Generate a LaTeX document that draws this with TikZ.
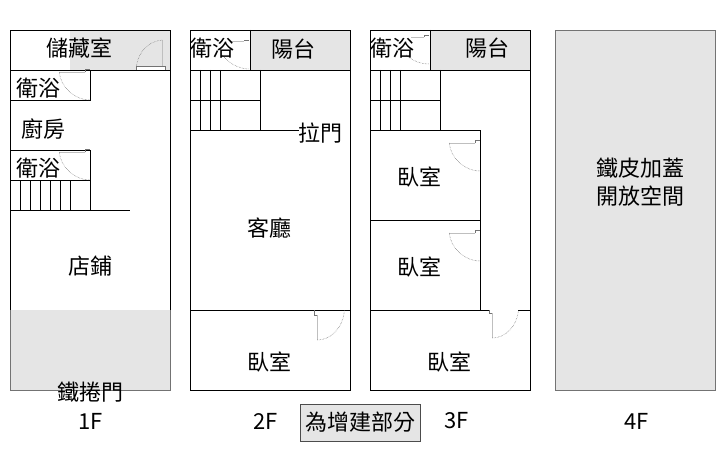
\documentclass[tikz,border=0pt]{standalone}
\usepackage{fontspec}
\setmainfont{Noto Sans CJK TC}
\tikzset{
  wall/.style={draw=black, line width=0.85pt},
  shade/.style={fill=black!10},
  doorleaf/.style={draw=black!25, line width=0.75pt},
  doorarc/.style={draw=black!60, densely dotted, line width=0.5pt},
  doortick/.style={draw=black!55, line width=0.5pt},
  room/.style={font=\fontsize{22}{28}\selectfont, inner sep=0pt}
}
\begin{document}
\begin{tikzpicture}[x=1pt, y=-1pt]
\useasboundingbox (0,0) rectangle (726,452);
\begin{scope}[xshift=-0.6pt]

% Shaded parts
\fill[shade] (71,30) rectangle (171,70);
\fill[shade] (11,310) rectangle (171,390);
\fill[shade] (251,30) rectangle (351,70);
\fill[shade] (431,30) rectangle (531,70);
\draw[shade, draw=black!55, line width=0.75pt] (556,30) rectangle (716,390);

% 1F walls
\draw[wall] (11,310) -- (11,30) -- (171,30) -- (171,310);
\draw[draw=black!55, line width=0.75pt] (11,310) -- (11,390) -- (171,390) -- (171,310);
\draw[wall] (11,70) -- (171,70);
\draw[wall] (11,100) -- (91,100) -- (91,70);
\draw[wall] (11,150) -- (91,150) -- (91,210);
\draw[wall] (11,180) -- (91,180);
\draw[wall] (11,210) -- (131,210);
\foreach \x in {21,31,41,51,61,71} {
  \draw[wall] (\x,180) -- (\x,210);
}

% 2F walls
\draw[wall] (191,30) rectangle (351,390);
\draw[wall] (191,70) -- (351,70);
\draw[wall] (251,30) -- (251,70);
\draw[wall] (261,70) -- (261,130);
\draw[wall] (191,100) -- (261,100);
\draw[wall] (191,130) -- (300,130);
\draw[wall] (191,310) -- (351,310);
\foreach \x in {201,211,221} {
  \draw[wall] (\x,70) -- (\x,130);
}

% 3F walls
\draw[wall] (371,30) rectangle (531,390);
\draw[wall] (371,70) -- (531,70);
\draw[wall] (431,30) -- (431,70);
\draw[wall] (441,70) -- (441,130);
\draw[wall] (371,100) -- (441,100);
\draw[wall] (371,130) -- (481,130) -- (481,310);
\draw[wall] (371,220) -- (481,220);
\draw[wall] (371,310) -- (490,310);
\draw[wall] (519,310) -- (531,310);
\foreach \x in {381,391,401} {
  \draw[wall] (\x,70) -- (\x,130);
}

% Doors
\fill[white] (137,66) rectangle (166,70);
\draw[doorleaf] (163,40) -- (163,66);
\draw[doortick] (137,70) -- (137,66) -- (166,66) -- (166,70);
\draw[doorarc] (137,66) .. controls (139,52) and (149,41) .. (163,40);

\foreach \x/\y in {60/72, 60/152, 450/143, 450/233} {
  \draw[doorleaf] (\x,\y) -- (\x+26,\y);
  \draw[doortick] (\x+26,\y) -- (\x+26,\y-3) -- (\x+31,\y-3);
  \draw[doorarc] (\x,\y) .. controls (\x+1,\y+15) and (\x+15,\y+28) .. (\x+31,\y+28);
}

\draw[doorleaf] (232,41) -- (245,41);
\draw[doortick] (245,41) -- (245,40) -- (250,40);
\draw[doorarc] (223,55) .. controls (229,63) and (239,69) .. (250,69);
\draw[doorleaf] (412,37) -- (425,37);
\draw[doortick] (425,37) -- (425,35) -- (430,35);
\draw[doorarc] (407,55) .. controls (412,60) and (420,64) .. (430,64);

\draw[doorleaf] (318,315) -- (318,340);
\draw[doortick] (315,310) -- (315,315) -- (318,315);
\draw[doorarc] (318,340) .. controls (332,340) and (344,327) .. (345,310);
\draw[doorleaf] (493,313) -- (493,338);
\draw[doortick] (490,310) -- (490,313) -- (493,313);
\draw[doorarc] (493,338) .. controls (506,338) and (518,326) .. (519,310);

% 1F labels
\node[room] (storage) at (80,48.5) {儲藏室};
\node[room] (bathA) at (39,88) {衛浴};
\node[room] (kitchen) at (44,129) {廚房};
\node[room] (bathB) at (39,168) {衛浴};
\node[room] (shop) at (91,266) {店鋪};
\node[room] (shutter) at (91,392) {鐵捲門};
\node[room] (floorA) at (91,421) {1F};

% 2F labels
\node[room] (bathC) at (213,48) {衛浴};
\node[room] (balconyA) at (294,49) {陽台};
\node[room] (slider) at (321,133) {拉門};
\node[room] (living) at (270,228) {客廳};
\node[room] (bedA) at (270,362) {臥室};
\node[room] (floorB) at (266,421) {2F};

% 3F labels
\node[room] (bathD) at (393,48) {衛浴};
\node[room] (balconyB) at (488,48) {陽台};
\node[room] (bedB) at (420,177) {臥室};
\node[room] (bedC) at (420,267) {臥室};
\node[room] (bedD) at (450,362) {臥室};
\node[room] (floorC) at (457,421) {3F};

% 4F labels
\node[room, align=center] (roof) at (641,182) {鐵皮加蓋\\開放空間};
\node[room] (floorD) at (637,421) {4F};

% Legend
\node[room, shade, draw=black!70, line width=0.75pt, minimum width=120pt, minimum height=37pt] (legend) at (361,422.5) {為增建部分};

\end{scope}
\end{tikzpicture}
\end{document}
